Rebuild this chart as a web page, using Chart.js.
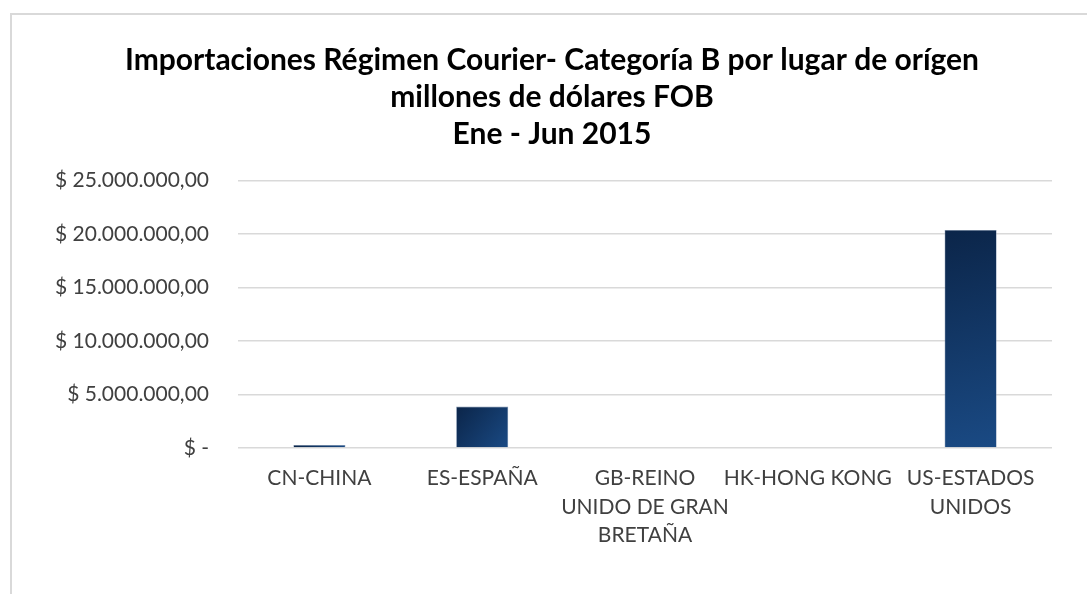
<!DOCTYPE html>
<html>
<head>
<meta charset="utf-8">
<script src="https://cdn.jsdelivr.net/npm/chart.js@4.4.1/dist/chart.umd.min.js"></script>
<style>
  html, body { margin: 0; padding: 0; background: #fff; overflow: hidden; }
  #frame { position: absolute; left: 10px; top: 13px; width: 1200px; height: 700px;
           border-left: 2px solid #d9d9d9; border-top: 2px solid #d9d9d9; }
  #wrap { position: absolute; left: 0; top: 0; width: 1087px; height: 594px; }
</style>
</head>
<body>
<div id="frame"></div>
<div id="wrap"><canvas id="c" width="1087" height="594"></canvas></div>
<script>
const categories = [
  "CN-CHINA",
  "ES-ESPAÑA",
  ["GB-REINO", "UNIDO DE GRAN", "BRETAÑA"],
  "HK-HONG KONG",
  ["US-ESTADOS", "UNIDOS"]
];
const importValues = [280000, 3870000, 0, 0, 20400000];
const yTicks = [0, 5000000, 10000000, 15000000, 20000000, 25000000];
const titleLines = [
  "Importaciones Régimen Courier- Categoría B por lugar de orígen",
  "millones de dólares FOB",
  "Ene - Jun 2015"
];

const FONT = "Lato, 'Open Sans', sans-serif";

function fmt(v) {
  if (v === 0) return "$ -";
  const s = Math.round(v).toString().replace(/\B(?=(\d{3})+(?!\d))/g, ".");
  return "$ " + s + ",00";
}

function barFill(ctx) {
  const chart = ctx.chart;
  const xs = chart.scales && chart.scales.x, ys = chart.scales && chart.scales.y;
  if (!xs || !ys || !chart.chartArea || ctx.dataIndex === undefined) return "#143b6c";
  const cx = xs.getPixelForValue(ctx.dataIndex);
  const w = (xs.width / categories.length) * 0.32;
  const top = ys.getPixelForValue(importValues[ctx.dataIndex]);
  const base = ys.getPixelForValue(0);
  const vals = [cx - w / 2, top, cx + w / 2, base];
  if (!vals.every(Number.isFinite)) return "#143b6c";
  const g = chart.ctx.createLinearGradient(vals[0], vals[1], vals[2], vals[3] + 0.01);
  g.addColorStop(0, "#0b2549");
  g.addColorStop(1, "#1a4a84");
  return g;
}

new Chart(document.getElementById('c'), {
  type: 'bar',
  data: {
    labels: categories,
    datasets: [{
      data: importValues,
      backgroundColor: barFill,
      borderColor: "#7f93b0",
      borderWidth: 0.6,
      barPercentage: 0.32,
      categoryPercentage: 1.0
    }]
  },
  options: {
    responsive: false,
    animation: false,
    layout: { padding: { left: 52, right: 35, top: 42, bottom: 0 } },
    plugins: {
      legend: { display: false },
      tooltip: { enabled: false },
      title: {
        display: true,
        text: titleLines,
        color: "#000",
        font: { family: FONT, size: 30, weight: 'bold', lineHeight: 1.23 },
        padding: { top: 0, bottom: 28 }
      }
    },
    scales: {
      x: {
        grid: { display: false, drawTicks: false },
        border: { display: false },
        ticks: {
          color: "#404040",
          font: { family: FONT, size: 21, lineHeight: 1.36 },
          padding: 16,
          maxRotation: 0,
          autoSkip: false
        },
        afterFit: s => { s.height = 146; }
      },
      y: {
        min: 0,
        max: 25000000,
        afterBuildTicks: s => { s.ticks = yTicks.map(v => ({ value: v })); },
        grid: { color: "#d9d9d9", lineWidth: 1.5, drawTicks: false },
        border: { display: false },
        ticks: {
          color: "#404040",
          font: { family: FONT, size: 21 },
          padding: 29,
          callback: v => fmt(v)
        },
        afterFit: s => { s.width = 186; }
      }
    }
  }
});
</script>
</body>
</html>
